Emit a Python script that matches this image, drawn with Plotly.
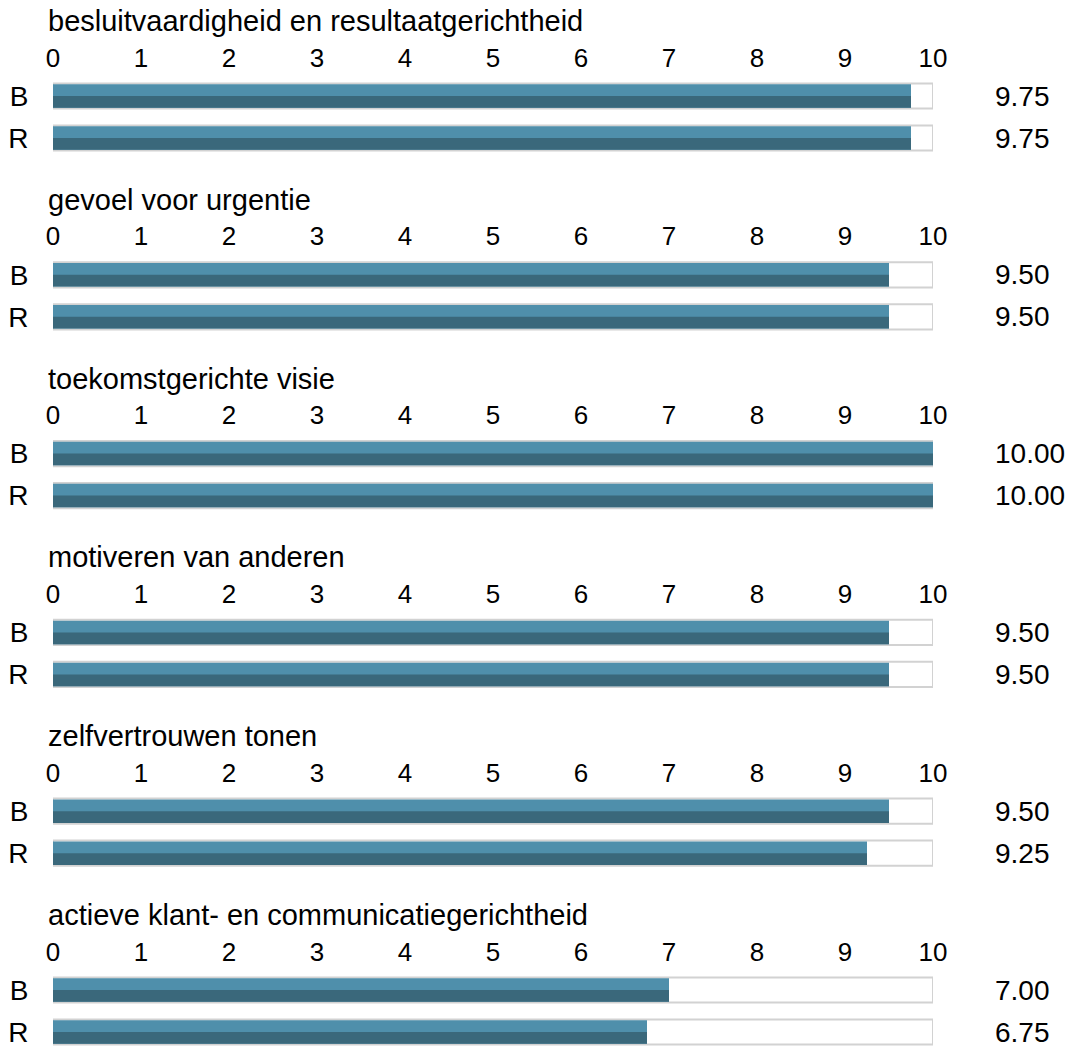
import plotly.graph_objects as go

titles = [
    "besluitvaardigheid en resultaatgerichtheid",
    "gevoel voor urgentie",
    "toekomstgerichte visie",
    "motiveren van anderen",
    "zelfvertrouwen tonen",
    "actieve klant- en communicatiegerichtheid",
]
row_labels = ["B", "R"]
scores_B = [9.75, 9.50, 10.00, 9.50, 9.50, 7.00]
scores_R = [9.75, 9.50, 10.00, 9.50, 9.25, 6.75]
scale_max = 10
tick_values = list(range(0, 11))

W, H = 1074, 1047
LIGHT = "#4f8fab"
DARK = "#3a687b"
TRACK_LINE = "#d2d2d2"
FONT = "Liberation Sans, Arial, sans-serif"

fig = go.Figure()
layout = dict(
    width=W, height=H, margin=dict(l=0, r=0, t=0, b=0, autoexpand=False),
    paper_bgcolor="white", plot_bgcolor="white",
    barmode="overlay", showlegend=False,
    font=dict(family=FONT, color="black", size=28),
)
annotations = []

x0_px, x1_px = 53, 933
pitch = 178.8
unit = 42.0
for i, title in enumerate(titles):
    ax = "" if i == 0 else str(i + 1)
    xr, yr = "x" + ax, "y" + ax
    b_center = 96 + pitch * i
    top_px = b_center - 16
    bot_px = min(b_center + unit + 21, H)
    y_top = (top_px - b_center) / unit
    y_bot = (bot_px - b_center) / unit
    vals = [scores_B[i], scores_R[i]]
    ypos = [0, 1]
    fig.add_trace(go.Bar(
        x=[scale_max] * 2, y=ypos, orientation="h", width=0.6,
        marker=dict(color="white", line=dict(color=TRACK_LINE, width=2)),
        xaxis=xr, yaxis=yr, hoverinfo="skip"))
    fig.add_trace(go.Bar(
        x=vals, y=ypos, orientation="h", width=0.56,
        marker=dict(color=LIGHT, line=dict(width=0)),
        xaxis=xr, yaxis=yr))
    fig.add_trace(go.Bar(
        x=vals, y=ypos, orientation="h", width=0.28, offset=0,
        marker=dict(color=DARK, line=dict(width=0)),
        xaxis=xr, yaxis=yr))
    layout["xaxis" + ax] = dict(
        domain=[x0_px / W, x1_px / W], anchor=yr, side="top",
        range=[0, scale_max], tickvals=tick_values, automargin=False,
        showgrid=False, zeroline=False, showline=False,
        ticks="outside", ticklen=2, tickcolor="rgba(0,0,0,0)",
        ticklabeloverflow="allow",
        tickfont=dict(size=26, color="black"), fixedrange=True)
    layout["yaxis" + ax] = dict(
        domain=[1 - bot_px / H, 1 - top_px / H], anchor=xr,
        range=[y_bot, y_top], tickvals=ypos, ticktext=row_labels,
        automargin=False, ticklabeloverflow="allow",
        showgrid=False, zeroline=False, showline=False,
        ticks="outside", ticklen=18, tickcolor="rgba(0,0,0,0)",
        tickfont=dict(size=28, color="black"), fixedrange=True)
    annotations.append(dict(
        text=title, xref="paper", yref="paper",
        x=46 / W, y=1 - (21 + pitch * i) / H,
        xanchor="left", yanchor="middle", showarrow=False,
        font=dict(size=29, color="black")))
    for v, yy in zip(vals, ypos):
        annotations.append(dict(
            text=f"{v:.2f}", xref="paper", yref=yr,
            x=993 / W, y=yy, xanchor="left", yanchor="middle",
            showarrow=False, font=dict(size=28, color="black")))

layout["annotations"] = annotations
fig.update_layout(**layout)
fig.write_html("out.html")
